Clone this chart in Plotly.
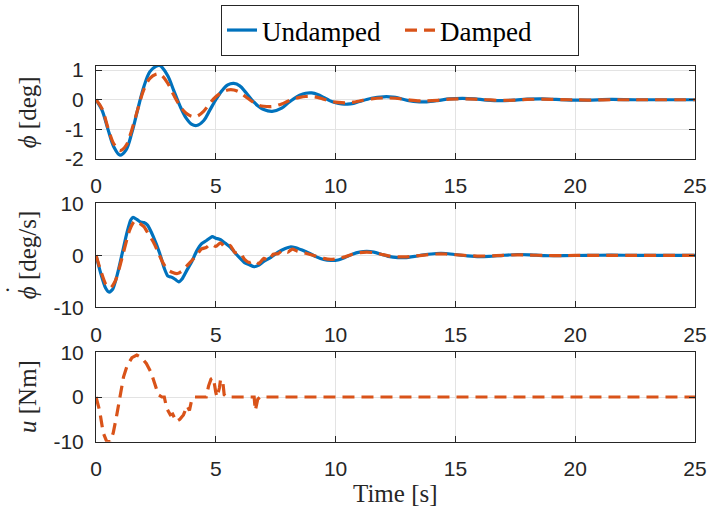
import plotly.graph_objects as go

# ---------------- data ----------------
t_phi = [0, 0.25, 0.5, 0.75, 1.0, 1.25, 1.5, 1.75, 2.0, 2.25, 2.5, 2.65, 2.75, 3.0, 3.25, 3.5,
         3.75, 4.0, 4.2, 4.5, 4.75, 5.0, 5.25, 5.5, 5.75, 6.0, 6.25, 6.5, 6.75, 7.0, 7.35, 7.75,
         8.0, 8.25, 8.5, 8.75, 9.0, 9.25, 9.5, 9.75, 10.0, 10.25, 10.5, 10.75, 11.0, 11.5, 12.0,
         12.25, 12.5, 13.0, 13.5, 13.8, 14.25, 14.75, 15.3, 15.8, 16.3, 16.9, 17.5, 18.0, 18.6,
         19.2, 19.8, 20.5, 21.5, 22.5, 25.0]
phi_undamped = [0, -0.35, -1.0, -1.6, -1.87, -1.7, -1.1, -0.3, 0.45, 0.95, 1.13, 1.16, 1.1, 0.8,
                0.3, -0.2, -0.6, -0.83, -0.87, -0.7, -0.35, 0.0, 0.3, 0.5, 0.55, 0.47, 0.25, 0.0,
                -0.2, -0.33, -0.39, -0.28, -0.12, 0.03, 0.15, 0.22, 0.23, 0.18, 0.08, -0.03, -0.1,
                -0.14, -0.15, -0.12, -0.06, 0.05, 0.1, 0.1, 0.08, -0.02, -0.07, -0.07, -0.03, 0.03,
                0.05, 0.03, -0.01, -0.03, -0.01, 0.02, 0.03, 0.01, -0.01, -0.01, 0.01, 0.0, 0.0]
phi_damped = [0, -0.3, -0.95, -1.5, -1.72, -1.55, -1.0, -0.3, 0.35, 0.72, 0.86, 0.87, 0.82, 0.55,
              0.15, -0.2, -0.45, -0.56, -0.56, -0.38, -0.12, 0.1, 0.25, 0.33, 0.33, 0.25, 0.1,
              -0.05, -0.17, -0.22, -0.23, -0.14, -0.05, 0.03, 0.08, 0.11, 0.11, 0.08, 0.02, -0.04,
              -0.08, -0.1, -0.1, -0.08, -0.04, 0.03, 0.06, 0.06, 0.05, 0.0, -0.04, -0.04, -0.02,
              0.02, 0.03, 0.02, 0.0, -0.02, -0.01, 0.01, 0.02, 0.01, 0.0, -0.01, 0.0, 0.0, 0.0]

t_dphi_u = [0, 0.2, 0.4, 0.55, 0.7, 0.9, 1.1, 1.3, 1.45, 1.55, 1.7, 1.85, 2.0, 2.15, 2.4, 2.65,
            2.85, 3.0, 3.15, 3.3, 3.45, 3.6, 3.8, 4.0, 4.2, 4.4, 4.6, 4.85, 5.0, 5.2, 5.4, 5.6,
            5.8, 6.0, 6.2, 6.4, 6.6, 6.8, 7.0, 7.3, 7.6, 7.9, 8.1, 8.3, 8.6, 8.9, 9.2, 9.5, 9.8,
            10.1, 10.4, 10.7, 11.0, 11.3, 11.6, 11.9, 12.2, 12.6, 12.9, 13.3, 13.7, 14.2, 14.6,
            15.0, 15.5, 16.0, 16.4, 17.0, 17.6, 18.1, 18.7, 19.5, 20.5, 21.5, 22.5, 25.0]
dphi_undamped = [0, -3.5, -6.3, -7.1, -6.5, -3.5, 0.5, 4.5, 6.8, 7.3, 6.9, 6.4, 6.3, 5.8, 3.5,
                 0.5, -2.5, -4.0, -4.2, -4.6, -5.1, -4.5, -2.8, -1.2, 0.8, 2.2, 2.8, 3.6, 3.3,
                 3.0, 2.3, 1.6, 0.5, -0.5, -1.4, -1.8, -2.2, -1.9, -1.2, -0.4, 0.6, 1.3, 1.6, 1.5,
                 1.0, 0.4, -0.3, -0.8, -1.0, -0.9, -0.4, 0.2, 0.6, 0.75, 0.6, 0.2, -0.2, -0.45,
                 -0.45, -0.2, 0.1, 0.35, 0.35, 0.15, -0.1, -0.25, -0.2, 0.0, 0.15, 0.1, -0.05,
                 -0.08, 0.0, 0.02, 0.0, 0.0]

t_dphi_d = [0, 0.2, 0.4, 0.6, 0.8, 1.0, 1.2, 1.4, 1.6, 1.8, 2.0, 2.2, 2.4, 2.6, 2.8, 3.0, 3.2,
            3.4, 3.6, 3.8, 4.0, 4.2, 4.4, 4.6, 4.8, 5.0, 5.2, 5.4, 5.6, 5.8, 6.0, 6.2, 6.4, 6.6,
            6.8, 7.0, 7.2, 7.4, 7.6, 7.8, 8.0, 8.2, 8.4, 8.6, 8.9, 9.2, 9.5, 9.8, 10.1, 10.4,
            10.7, 11.0, 11.3, 11.6, 11.9, 12.2, 12.6, 12.9, 13.3, 13.7, 14.2, 14.6, 15.0, 15.5,
            16.0, 16.4, 17.0, 17.6, 18.1, 18.7, 19.5, 20.5, 21.5, 22.5, 25.0]
dphi_damped = [0, -3.0, -5.5, -6.3, -5.0, -2.0, 1.5, 4.8, 6.5, 6.2, 5.5, 4.0, 2.5, 0.5, -1.5,
               -2.8, -3.3, -3.5, -3.0, -2.0, -1.0, 0.0, 1.2, 1.5, 2.2, 1.7, 2.4, 1.5, 1.9, 0.5,
               0.6, -0.8, -1.4, -1.0, -1.6, -0.6, -1.0, 0.2, 0.3, 1.0, 0.6, 1.2, 0.8, 0.6, 0.2,
               -0.2, -0.6, -0.8, -0.6, -0.3, 0.2, 0.5, 0.6, 0.5, 0.2, -0.1, -0.3, -0.3, -0.15,
               0.05, 0.25, 0.25, 0.1, -0.05, -0.15, -0.12, 0.0, 0.1, 0.05, -0.03, -0.05, 0.0,
               0.0, 0.0, 0.0]

t_u = [0, 0.15, 0.3, 0.45, 0.6, 0.72, 0.85, 1.0, 1.15, 1.3, 1.5, 1.7, 1.9, 2.1, 2.3, 2.45, 2.6,
       2.75, 2.85, 2.95, 3.1, 3.2, 3.35, 3.5, 3.65, 3.8, 3.9, 4.0, 4.1, 4.6, 4.7, 4.8, 4.9, 5.0,
       5.05, 5.15, 5.2, 5.3, 5.35, 5.45, 6.6, 6.65, 6.75, 6.85, 25.0]
u_damped = [0, -3, -8, -10, -10, -8, -4.5, 0.5, 4.5, 7.0, 8.8, 9.4, 8.8, 7.5, 5.5, 3.0, 0.5,
            0.0, 0.0, -2.5, -4.0, -3.8, -5.5, -5.0, -4.0, -2.0, -3.0, -0.5, 0.0, 0.0, 2.5, 4.0,
            4.3, 1.0, 0.0, 2.0, 4.0, 3.0, 0.5, 0.0, 0.0, -3.0, -0.5, 0.0, 0.0]

x_ticks = [0, 5, 10, 15, 20, 25]
phi_ticks = [-2, -1, 0, 1]
rate_ticks = [-10, 0, 10]
u_ticks = [-10, 0, 10]
series_names = ["Undamped", "Damped"]

# ---------------- style ----------------
W, H = 707, 515
BLUE = "#0072BD"
ORANGE = "#D95319"
AX = "#262626"
GRID = "#e3e3e3"
SERIF = "Liberation Serif, Times New Roman, serif"
SANS = "Liberation Sans, Arial, Helvetica, sans-serif"
DASH = "12px,7px"


def labels(vals):
    return [str(v) for v in vals]  # plain hyphen minus like the reference


fig = go.Figure()

fig.add_trace(go.Scatter(x=t_phi, y=phi_undamped, mode="lines", name=series_names[0],
                         line=dict(color=BLUE, width=3.2, shape="spline"),
                         xaxis="x", yaxis="y"))
fig.add_trace(go.Scatter(x=t_phi, y=phi_damped, mode="lines", name=series_names[1],
                         line=dict(color=ORANGE, width=3.2, dash=DASH, shape="spline"),
                         xaxis="x", yaxis="y"))
fig.add_trace(go.Scatter(x=t_dphi_u, y=dphi_undamped, mode="lines", showlegend=False,
                         line=dict(color=BLUE, width=3.2, shape="spline", smoothing=0.6),
                         xaxis="x2", yaxis="y2"))
fig.add_trace(go.Scatter(x=t_dphi_d, y=dphi_damped, mode="lines", showlegend=False,
                         line=dict(color=ORANGE, width=3.2, dash=DASH, shape="spline", smoothing=0.6),
                         xaxis="x2", yaxis="y2"))
fig.add_trace(go.Scatter(x=t_u, y=u_damped, mode="lines", showlegend=False,
                         line=dict(color=ORANGE, width=3.2, dash=DASH),
                         xaxis="x3", yaxis="y3"))

xdom = [96 / W, 695 / W]


def ydom(top, bottom):
    return [1 - bottom / H, 1 - top / H]


def xax(anchor):
    return dict(domain=xdom, range=[0, 25], tickvals=x_ticks, ticktext=labels(x_ticks),
                anchor=anchor, automargin=False,
                showline=True, linecolor=AX, linewidth=1, mirror="ticks",
                ticks="inside", ticklen=6, tickcolor=AX, showgrid=True, gridcolor=GRID,
                zeroline=False, tickfont=dict(family=SANS, size=21, color=AX),
                ticklabelstandoff=8)


def yax(anchor, rng, tv, top, bottom):
    return dict(domain=ydom(top, bottom), range=rng, tickvals=tv, ticktext=labels(tv),
                anchor=anchor, automargin=False,
                showline=True, linecolor=AX, linewidth=1, mirror="ticks",
                ticks="inside", ticklen=6, tickcolor=AX, showgrid=True, gridcolor=GRID,
                zeroline=False, tickfont=dict(family=SANS, size=21, color=AX),
                ticklabelstandoff=7)


P1 = (65.7, 159.0)
P2 = (203.3, 307.3)
P3 = (352.3, 441.7)

annotations = []
for (top, bottom), txt in [(P1, "<i>ϕ</i> [deg]"), (P2, "<i>ϕ</i> [deg/s]"), (P3, "<i>u</i> [Nm]")]:
    annotations.append(dict(text=txt, xref="paper", yref="paper", x=27 / W,
                            y=1 - (top + bottom) / 2 / H, textangle=-90, showarrow=False,
                            xanchor="center", yanchor="middle",
                            font=dict(family=SERIF, size=25, color=AX)))
# dot accent over phi (time derivative)
annotations.append(dict(text="˙", xref="paper", yref="paper", x=14 / W, y=1 - 290 / H,
                        textangle=-90, showarrow=False, xanchor="center", yanchor="middle",
                        font=dict(family=SERIF, size=25, color=AX)))
annotations.append(dict(text="Time [s]", xref="paper", yref="paper", x=395 / W, y=1 - 493 / H,
                        showarrow=False, xanchor="center", yanchor="middle",
                        font=dict(family=SERIF, size=25, color=AX)))

fig.update_layout(
    width=W, height=H, margin=dict(l=0, r=0, t=0, b=0, autoexpand=False),
    paper_bgcolor="white", plot_bgcolor="white",
    xaxis=xax("y"), yaxis=yax("x", [-2, 1.15], phi_ticks, *P1),
    xaxis2=xax("y2"), yaxis2=yax("x2", [-10, 10], rate_ticks, *P2),
    xaxis3=xax("y3"), yaxis3=yax("x3", [-10, 10], u_ticks, *P3),
    annotations=annotations,
    legend=dict(orientation="h", x=400 / W, xanchor="center", y=1 - 5 / H, yanchor="top",
                bordercolor=AX, borderwidth=1, bgcolor="white",
                font=dict(family=SERIF, size=27, color="black"), itemwidth=30,
                entrywidth=133, tracegroupgap=0),
    showlegend=True,
)

fig.write_html("out.html")
